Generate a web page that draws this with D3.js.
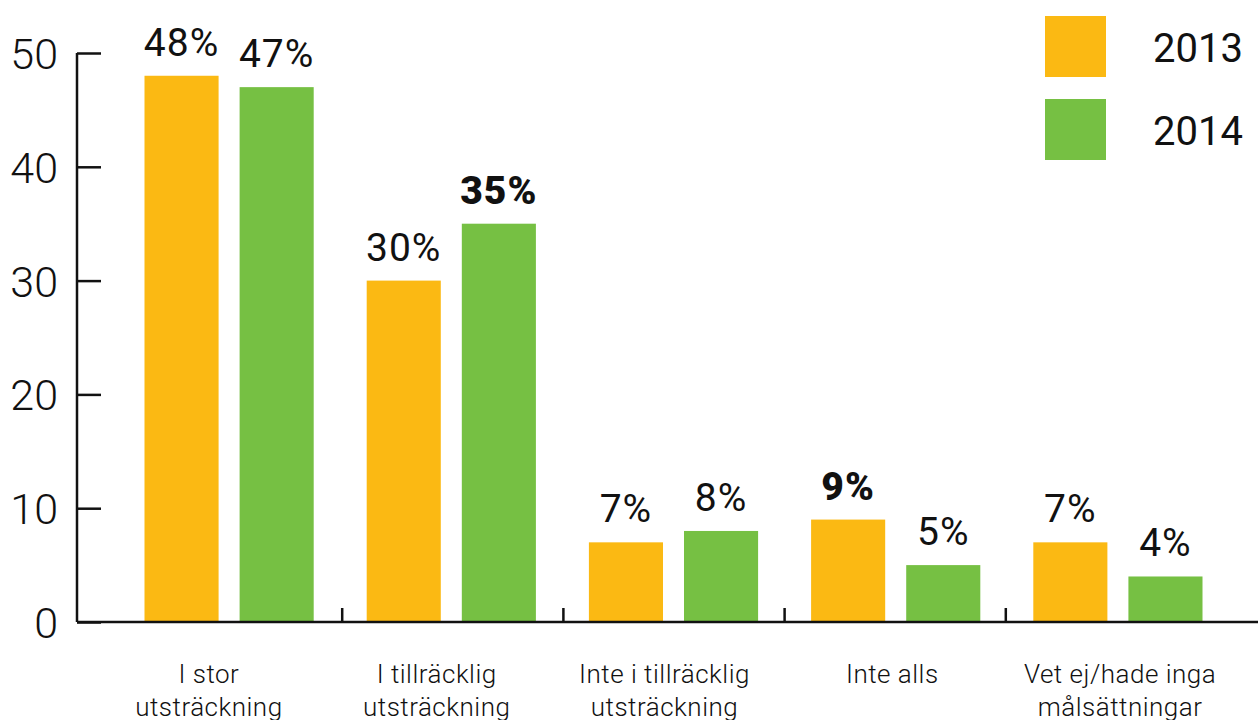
<!DOCTYPE html>
<html lang="sv">
<head>
    <meta charset="UTF-8">
    <title>Målsättningar 2013-2014</title>
    <script src="https://cdnjs.cloudflare.com/ajax/libs/d3/7.8.5/d3.min.js"></script>
    <style>
    html, body {
        margin: 0;
        background: white;
    }
    svg text {
        font-family: Roboto, "DejaVu Sans", sans-serif;
        fill: #111;
    }
</style>
</head>
<body>
    <div id="chart"></div>
    <script>
    // data
    var categories = ['I stor|utsträckning', 'I tillräcklig|utsträckning', 'Inte i tillräcklig|utsträckning', 'Inte alls', 'Vet ej/hade inga|målsättningar'];
    var years = ['2013', '2014'];
    var values2013 = [48, 30, 7, 9, 7];
    var values2014 = [47, 35, 8, 5, 4];
    var boldLabels2013 = [false, false, false, true, false];
    var boldLabels2014 = [false, true, false, false, false];
    var yTicks = [0, 10, 20, 30, 40, 50];
    var colors = ['#FBB913', '#76C043'];

    var width = 1258;
    var height = 720;

    var svg = d3.select('#chart')
        .append('svg')
            .attr('width', width)
            .attr('height', height);

    var x0 = d3.scaleBand()
        .domain(categories)
        .range([118, 1229])
        .padding(0);

    var x1 = d3.scaleBand()
        .domain(years)
        .range([26.5, x0.bandwidth() - 26.5])
        .paddingInner(0.221)
        .paddingOuter(0);

    var xLabel = d3.scaleBand()
        .domain(categories)
        .range([95, 1234]);

    var xDiv = d3.scaleBand()
        .domain(categories)
        .range([118, 1224]);

    var y = d3.scaleLinear()
        .domain([0, 50])
        .range([622, 53]);

    // bars
    var rows = categories.map(function(c, i) {
        return [
            { cat: c, year: years[0], value: values2013[i], bold: boldLabels2013[i], color: colors[0] },
            { cat: c, year: years[1], value: values2014[i], bold: boldLabels2014[i], color: colors[1] }
        ];
    });

    var groups = svg.selectAll('.group')
        .data(rows)
        .enter()
        .append('g')
        .attr('class', 'group')
        .attr('transform', function(d) { return 'translate(' + x0(d[0].cat) + ',0)'; });

    groups.selectAll('rect')
        .data(function(d) { return d; })
        .enter()
        .append('rect')
        .attr('x', function(d) { return x1(d.year); })
        .attr('y', function(d) { return y(d.value); })
        .attr('width', x1.bandwidth())
        .attr('height', function(d) { return y(0) - y(d.value); })
        .attr('fill', function(d) { return d.color; });

    groups.selectAll('.val')
        .data(function(d) { return d; })
        .enter()
        .append('text')
        .attr('class', 'val')
        .attr('x', function(d) { return x1(d.year) + x1.bandwidth() / 2; })
        .attr('y', function(d) { return y(d.value) - 20; })
        .attr('text-anchor', 'middle')
        .style('font-size', '39px')
        .style('letter-spacing', '1px')
        .style('font-weight', function(d) { return d.bold ? 900 : 400; })
        .text(function(d) { return d.value + '%'; });

    // y axis
    var yAxis = d3.axisLeft(y)
        .tickValues(yTicks)
        .tickSize(-24)
        .tickPadding(19);

    var yg = svg.append('g')
        .attr('transform', 'translate(77,0)')
        .call(yAxis);

    yg.select('.domain').remove();
    yg.append('line')
        .attr('x1', 0).attr('x2', 0)
        .attr('y1', y(50)).attr('y2', y(0))
        .attr('stroke', '#111')
        .attr('stroke-width', 2.5);
    yg.selectAll('.tick line')
        .attr('stroke', '#111')
        .attr('stroke-width', 2.5);
    yg.selectAll('.tick text')
        .style('font-size', '43px')
        .style('font-weight', 300)
        .attr('dy', '0.36em');

    // x axis baseline and dividers
    svg.append('line')
        .attr('x1', 77).attr('x2', width)
        .attr('y1', y(0)).attr('y2', y(0))
        .attr('stroke', '#111')
        .attr('stroke-width', 2.5);

    svg.selectAll('.divider')
        .data(categories.slice(1))
        .enter()
        .append('line')
        .attr('class', 'divider')
        .attr('x1', function(d) { return xDiv(d) + 3; })
        .attr('x2', function(d) { return xDiv(d) + 3; })
        .attr('y1', y(0) - 14)
        .attr('y2', y(0))
        .attr('stroke', '#111')
        .attr('stroke-width', 2.5);

    var catText = svg.selectAll('.cat')
        .data(categories)
        .enter()
        .append('text')
        .attr('class', 'cat')
        .attr('text-anchor', 'middle')
        .style('font-size', '26px')
        .style('font-weight', 300)
        .style('letter-spacing', '0.5px')
        .attr('x', function(d) { return xLabel(d) + xLabel.bandwidth() / 2; })
        .attr('y', 683);

    catText.selectAll('tspan')
        .data(function(d) { return d.split('|'); })
        .enter()
        .append('tspan')
        .attr('x', function() { return d3.select(this.parentNode).attr('x'); })
        .attr('dy', function(d, i) { return i === 0 ? 0 : 33; })
        .text(function(d) { return d; });

    // legend
    var legend = svg.selectAll('.legend')
        .data(years)
        .enter()
        .append('g')
        .attr('class', 'legend')
        .attr('transform', function(d, i) { return 'translate(1045,' + (16 + i * 83) + ')'; });

    legend.append('rect')
        .attr('width', 61)
        .attr('height', 61)
        .attr('fill', function(d, i) { return colors[i]; });

    legend.append('text')
        .attr('x', 108)
        .attr('y', 46)
        .style('font-size', '40px')
        .style('font-weight', 400)
        .text(function(d) { return d; });
    </script>
</body>
</html>
